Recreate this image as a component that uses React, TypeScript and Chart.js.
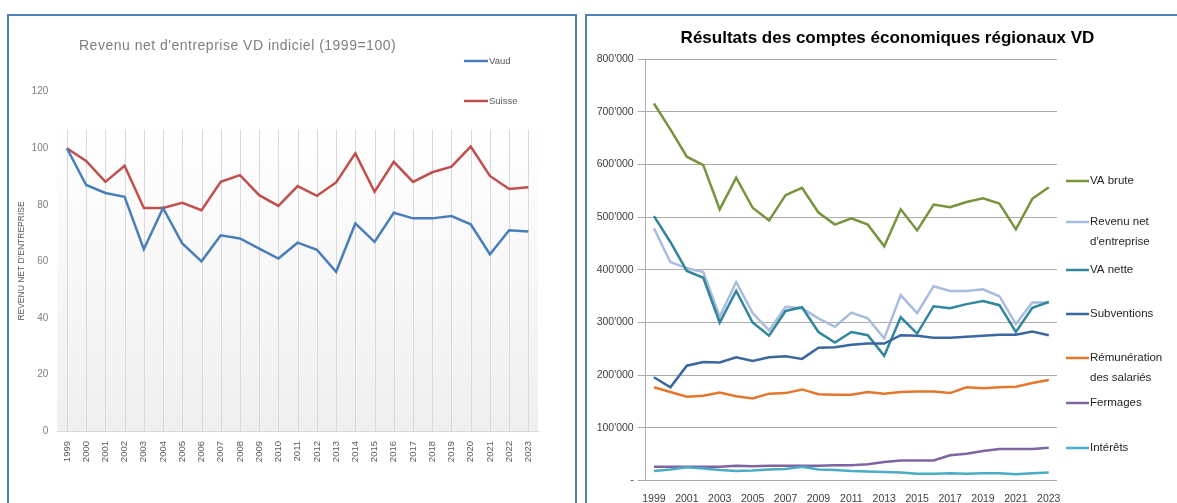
import React, { useEffect, useRef } from "react";
import { Chart, registerables } from "chart.js";

Chart.register(...registerables);

// ---------- data ----------
const years = [
  "1999", "2000", "2001", "2002", "2003", "2004", "2005", "2006", "2007",
  "2008", "2009", "2010", "2011", "2012", "2013", "2014", "2015", "2016",
  "2017", "2018", "2019", "2020", "2021", "2022", "2023",
];

// Left chart: index 1999 = 100
const vaudIndex = [
  100, 87.0, 84.2, 82.8, 64.3, 78.9, 66.3, 60.0, 69.2, 68.1, 64.5, 61.0, 66.6,
  64.1, 56.3, 73.4, 66.9, 77.2, 75.2, 75.2, 76.0, 73.1, 62.5, 71.0, 70.6,
];
const suisseIndex = [
  100, 95.5, 88.1, 93.8, 78.9, 78.9, 80.7, 78.1, 88.1, 90.5, 83.4, 79.6, 86.6,
  83.2, 87.9, 98.2, 84.6, 95.2, 88.1, 91.5, 93.5, 100.6, 90.2, 85.6, 86.2,
];

// Right chart: values in thousands (CHF 1'000)
const vaBrute = [
  716, 667, 615, 599, 515, 575, 518, 494, 542, 556, 509, 486, 498, 486, 445,
  515, 475, 524, 519, 529, 536, 526, 477, 535, 557,
];
const revenuNet = [
  479, 415, 403, 396, 311, 377, 318, 285, 330, 327, 308, 292, 319, 308, 270,
  352, 318, 369, 360, 360, 363, 350, 297, 338, 338,
];
const vaNette = [
  502, 453, 398, 385, 300, 360, 300, 275, 322, 329, 282, 262, 282, 276, 237,
  310, 279, 331, 327, 335, 341, 333, 282, 328, 339,
];
const subventions = [
  196, 177, 218, 225, 224, 234, 227, 234, 236, 231, 252, 253, 258, 260, 260,
  276, 275, 271, 271, 273, 275, 277, 277, 283, 276,
];
const remuneration = [
  177, 168, 159, 161, 167, 160, 156, 165, 166, 173, 164, 163, 163, 168, 165,
  168, 169, 169, 166, 177, 175, 177, 178, 185, 191,
];
const fermages = [
  26, 26, 26, 26, 26, 28, 27, 28, 28, 28, 28, 29, 29, 31, 35, 38, 38, 38, 48,
  51, 56, 60, 60, 60, 62,
];
const interets = [
  18, 21, 25, 23, 20, 18, 19, 21, 22, 26, 21, 20, 18, 17, 16, 15, 13, 13, 14,
  13, 14, 14, 12, 14, 15,
];

const leftSeriesNames = ["Vaud", "Suisse"];
const leftTitle = "Revenu net d'entreprise VD indiciel (1999=100)";
const leftYTitle = "REVENU NET D'ENTREPRISE";
const rightTitle = "Résultats des comptes économiques régionaux VD";
const rightSeriesNames = [
  "VA brute",
  "Revenu net d'entreprise",
  "VA nette",
  "Subventions",
  "Rémunération des salariés",
  "Fermages",
  "Intérêts",
];
const rightLegendLines = [
  ["VA brute"],
  ["Revenu net", "d'entreprise"],
  ["VA nette"],
  ["Subventions"],
  ["Rémunération", "des salariés"],
  ["Fermages"],
  ["Intérêts"],
];

// ---------- styles ----------
const FONT = "'Liberation Sans', Arial, sans-serif";
const leftColors = ["#4a7ebb", "#c0504d"];
const rightColors = [
  "#77933c",
  "#a9bcdf",
  "#31859c",
  "#3a67a0",
  "#e3782c",
  "#8064a2",
  "#4bacc6",
];
const rightLegendY = [181, 222, 270, 314, 358, 403, 448];

const leftDecor = {
  id: "leftDecor",
  beforeDraw(chart: any) {
    const { ctx, chartArea, scales } = chart;
    const x = scales.x;
    const y = scales.y;
    const top = y.getPixelForValue(106.6);
    ctx.save();
    const g = ctx.createLinearGradient(0, top, 0, chartArea.bottom);
    g.addColorStop(0, "#ffffff");
    g.addColorStop(1, "#efefef");
    ctx.fillStyle = g;
    ctx.fillRect(chartArea.left, top, chartArea.right - chartArea.left, chartArea.bottom - top);
    ctx.strokeStyle = "#d9d9d9";
    ctx.lineWidth = 1;
    for (let i = 0; i < years.length; i++) {
      const px = Math.round(x.getPixelForTick(i)) + 0.5;
      ctx.beginPath();
      ctx.moveTo(px, top);
      ctx.lineTo(px, chartArea.bottom);
      ctx.stroke();
    }
    ctx.restore();
  },
  afterDraw(chart: any) {
    const { ctx } = chart;
    ctx.save();
    // title
    ctx.fillStyle = "#7f7f7f";
    ctx.font = `14px ${FONT}`;
    (ctx as any).letterSpacing = "0.5px";
    ctx.textAlign = "left";
    ctx.textBaseline = "middle";
    ctx.fillText(leftTitle, 79, 46.5);
    (ctx as any).letterSpacing = "0px";
    // y title
    ctx.save();
    ctx.translate(22, 261);
    ctx.rotate(-Math.PI / 2);
    ctx.fillStyle = "#595959";
    ctx.font = `8.5px ${FONT}`;
    ctx.textAlign = "center";
    ctx.textBaseline = "middle";
    ctx.fillText(leftYTitle, 0, 0);
    ctx.restore();
    // legend
    const ly = [61, 101];
    leftSeriesNames.forEach((name, i) => {
      ctx.strokeStyle = leftColors[i];
      ctx.lineWidth = 2.5;
      ctx.beginPath();
      ctx.moveTo(464, ly[i]);
      ctx.lineTo(488, ly[i]);
      ctx.stroke();
      ctx.fillStyle = "#595959";
      ctx.font = `9.5px ${FONT}`;
      ctx.textAlign = "left";
      ctx.textBaseline = "middle";
      ctx.fillText(name, 489, ly[i]);
    });
    ctx.restore();
  },
};

const rightDecor = {
  id: "rightDecor",
  afterDraw(chart: any) {
    const { ctx } = chart;
    ctx.save();
    ctx.fillStyle = "#000000";
    ctx.font = `bold 17px ${FONT}`;
    ctx.textAlign = "center";
    ctx.textBaseline = "middle";
    ctx.fillText(rightTitle, 887.5, 38.5);
    rightLegendLines.forEach((lines, i) => {
      const yy = rightLegendY[i];
      ctx.strokeStyle = rightColors[i];
      ctx.lineWidth = 2.5;
      ctx.beginPath();
      ctx.moveTo(1066, yy);
      ctx.lineTo(1089, yy);
      ctx.stroke();
      ctx.fillStyle = "#262626";
      ctx.font = `11.5px ${FONT}`;
      ctx.textAlign = "left";
      ctx.textBaseline = "middle";
      lines.forEach((t, j) => ctx.fillText(t, 1090, yy + j * 20));
    });
    ctx.restore();
  },
};

export default function App() {
  const leftRef = useRef<HTMLCanvasElement>(null);
  const rightRef = useRef<HTMLCanvasElement>(null);

  useEffect(() => {
    const left = new Chart(leftRef.current as HTMLCanvasElement, {
      type: "line",
      data: {
        labels: years,
        datasets: [vaudIndex, suisseIndex].map((d, i) => ({
          label: leftSeriesNames[i],
          data: d,
          borderColor: leftColors[i],
          backgroundColor: leftColors[i],
          borderWidth: 2.5,
          pointRadius: 0,
          tension: 0,
          fill: false,
        })),
      },
      options: {
        responsive: false,
        animation: false,
        events: [],
        layout: { padding: { left: 17.3, right: 639, top: 91.7, bottom: 32 } },
        plugins: { legend: { display: false }, title: { display: false }, tooltip: { enabled: false } },
        scales: {
          x: {
            type: "category",
            offset: true,
            grid: { display: false },
            border: { display: true, color: "#d9d9d9", width: 1 },
            ticks: {
              autoSkip: false,
              minRotation: 90,
              maxRotation: 90,
              padding: 2,
              color: "#595959",
              font: { family: FONT, size: 9.5 },
            },
            afterFit: (s: any) => {
              s.height = 40;
            },
          },
          y: {
            min: 0,
            max: 120,
            grid: { display: false, drawTicks: false },
            border: { display: false },
            ticks: {
              stepSize: 20,
              padding: 9,
              color: "#7f7f7f",
              font: { family: FONT, size: 10 },
            },
            afterFit: (s: any) => {
              s.width = 40;
            },
          },
        },
      },
      plugins: [leftDecor],
    });

    const rightData = [vaBrute, revenuNet, vaNette, subventions, remuneration, fermages, interets];
    const right = new Chart(rightRef.current as HTMLCanvasElement, {
      type: "line",
      data: {
        labels: years,
        datasets: rightData.map((d, i) => ({
          label: rightSeriesNames[i],
          data: d.map((v) => v * 1000),
          borderColor: rightColors[i],
          backgroundColor: rightColors[i],
          borderWidth: 2.5,
          pointRadius: 0,
          tension: 0,
          fill: false,
          order: 10 - i,
        })),
      },
      options: {
        responsive: false,
        animation: false,
        events: [],
        layout: { padding: { left: 585.7, right: 120, top: 59.3, bottom: 0 } },
        plugins: { legend: { display: false }, title: { display: false }, tooltip: { enabled: false } },
        scales: {
          x: {
            type: "category",
            offset: true,
            grid: { display: false },
            border: { display: false },
            ticks: {
              autoSkip: false,
              maxRotation: 0,
              minRotation: 0,
              padding: 4,
              color: "#404040",
              font: { family: FONT, size: 10.5 },
              callback: (_v: any, idx: number) => (idx % 2 === 0 ? years[idx] : ""),
            },
            afterFit: (s: any) => {
              s.height = 22.5;
            },
          },
          y: {
            min: 0,
            max: 800000,
            grid: { color: "#acacac", lineWidth: 1, tickLength: 8, drawTicks: true },
            border: { display: true, color: "#acacac", width: 1 },
            ticks: {
              stepSize: 100000,
              padding: 4,
              color: "#404040",
              font: { family: FONT, size: 10.5 },
              callback: (v: any) => (Number(v) === 0 ? "-" : `${Math.round(Number(v) / 1000)}'000`),
            },
            afterFit: (s: any) => {
              s.width = 60;
            },
          },
        },
      },
      plugins: [rightDecor],
    });

    return () => {
      left.destroy();
      right.destroy();
    };
  }, []);

  const canvasStyle: React.CSSProperties = { position: "absolute", left: 0, top: 0 };

  return (
    <div
      style={{
        position: "fixed",
        left: 0,
        top: 0,
        width: 1177,
        height: 503,
        overflow: "hidden",
        background: "#ffffff",
      }}
    >
      <div
        style={{
          position: "absolute",
          left: 7,
          top: 14,
          width: 570,
          height: 600,
          border: "2px solid #4f81bd",
          boxSizing: "border-box",
        }}
      />
      <div
        style={{
          position: "absolute",
          left: 585,
          top: 14,
          width: 700,
          height: 600,
          border: "2px solid #4f81bd",
          boxSizing: "border-box",
        }}
      />
      <canvas ref={leftRef} width={1177} height={503} style={canvasStyle} />
      <canvas ref={rightRef} width={1177} height={503} style={canvasStyle} />
    </div>
  );
}
